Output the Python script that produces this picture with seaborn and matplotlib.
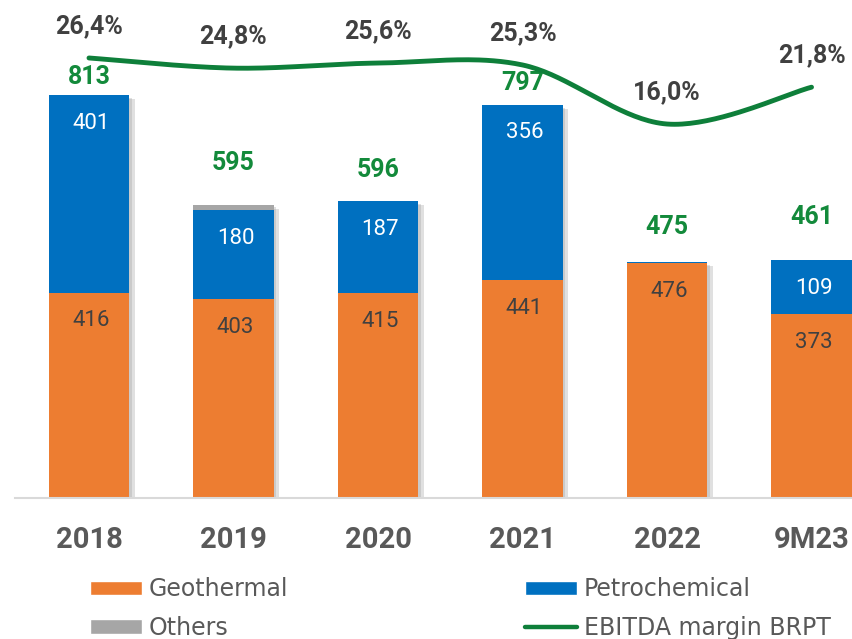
import numpy as np
import pandas as pd
import matplotlib
matplotlib.use("Agg")
import matplotlib.pyplot as plt
import matplotlib.patheffects as pe
from matplotlib.patches import Patch
from matplotlib.lines import Line2D
import seaborn as sns

# ---------------- data ----------------
categories = ["2018", "2019", "2020", "2021", "2022", "9M23"]
geothermal = [416, 403, 415, 441, 476, 373]
petrochemical = [401, 180, 187, 356, 3, 109]
others = [0, 12, 0, 0, 0, 0]
totals = [813, 595, 596, 797, 475, 461]
ebitda_margin = [26.4, 24.8, 25.6, 25.3, 16.0, 21.8]
geo_labels = ["416", "403", "415", "441", "476", "373"]
petro_labels = ["401", "180", "187", "356", "", "109"]
total_labels = ["813", "595", "596", "797", "475", "461"]
margin_labels = ["26,4%", "24,8%", "25,6%", "25,3%", "16,0%", "21,8%"]
legend_labels = ["Geothermal", "Others", "Petrochemical", "EBITDA margin BRPT"]

# ---------------- style ----------------
ORANGE = "#ED7D31"
BLUE = "#0070C0"
GRAY = "#A6A6A6"
GREEN = "#0E7F3A"
LBL_GREEN = "#138A3B"
DARK = "#404040"
TICK = "#595959"

total_label_offsets_px = [18, 42, 31, 22, 35, 43]

sns.set_theme(style="white")
plt.rcParams["font.family"] = ["Roboto", "DejaVu Sans"]

W, H = 853, 639
fig = plt.figure(figsize=(W / 100, H / 100), dpi=100)
ax = fig.add_axes([15 / W, 1 - 498 / H, (W - 15) / W, 498 / H])

df = pd.DataFrame({"cat": categories, "geo": geothermal,
                   "petro": petrochemical, "others": others})
df["c2"] = df["geo"] + df["petro"]
df["c3"] = df["c2"] + df["others"]

bw = 0.554
sns.barplot(data=df, x="cat", y="c3", order=categories, color=GRAY,
            width=bw, saturation=1, linewidth=0, ax=ax)
shadow = [pe.SimplePatchShadow(offset=(4, -3), shadow_rgbFace="#9a9a9a", alpha=0.3),
          pe.SimplePatchShadow(offset=(2, -2), shadow_rgbFace="#9a9a9a", alpha=0.3),
          pe.Normal()]
for p in ax.patches:
    p.set_path_effects(shadow)
sns.barplot(data=df, x="cat", y="c2", order=categories, color=BLUE,
            width=bw, saturation=1, linewidth=0, ax=ax)
sns.barplot(data=df, x="cat", y="geo", order=categories, color=ORANGE,
            width=bw, saturation=1, linewidth=0, ax=ax)

ax.set_xlim(-0.512, 5.287)
ax.set_ylim(0, 1009.7)
ax.set_xlabel("")
ax.set_ylabel("")
ax.set_yticks([])
ax.set_xticks(range(len(categories)))
ax.set_xticklabels(categories)
ax.tick_params(axis="x", length=0, pad=20, labelsize=21, labelcolor=TICK)
for lbl in ax.get_xticklabels():
    lbl.set_fontweight("bold")
for s in ["top", "left", "right"]:
    ax.spines[s].set_visible(False)
ax.spines["bottom"].set_color("#D9D9D9")
ax.spines["bottom"].set_linewidth(1.5)

PT = 72 / 100  # px -> pt

for i in range(len(categories)):
    c2 = df["c2"][i]
    c3 = df["c3"][i]
    if petro_labels[i]:
        ax.annotate(petro_labels[i], (i, c2), xytext=(2 * PT, -28 * PT),
                    textcoords="offset points", ha="center", va="center",
                    fontsize=16, color="white")
    ax.annotate(geo_labels[i], (i, geothermal[i]), xytext=(2 * PT, -28 * PT),
                textcoords="offset points", ha="center", va="center",
                fontsize=16, color=DARK)
    ax.annotate(total_labels[i], (i, c3),
                xytext=(0, total_label_offsets_px[i] * PT),
                textcoords="offset points", ha="center", va="center",
                fontsize=18, fontweight="bold", color=LBL_GREEN)

# ---------------- line (secondary axis) ----------------
ax2 = ax.twinx()
ax2.set_ylim(-42.89, 35.53)
ax2.set_yticks([])
for s in ax2.spines.values():
    s.set_visible(False)


def smooth(xs, ys, n=40):
    P = np.column_stack([xs, ys]).astype(float)
    P = np.vstack([P[0], P, P[-1]])
    out = []
    t = np.linspace(0, 1, n, endpoint=False)[:, None]
    for k in range(1, len(P) - 2):
        p0, p1, p2, p3 = P[k - 1], P[k], P[k + 1], P[k + 2]
        c1 = p1 + (p2 - p0) / 6
        c2 = p2 - (p3 - p1) / 6
        out.append((1 - t) ** 3 * p1 + 3 * (1 - t) ** 2 * t * c1
                   + 3 * (1 - t) * t ** 2 * c2 + t ** 3 * p2)
    out.append(P[-2][None, :])
    return np.vstack(out)


curve = smooth(np.arange(len(categories)), ebitda_margin)
sns.lineplot(x=curve[:, 0], y=curve[:, 1], sort=False, estimator=None,
             color=GREEN, linewidth=3.5, ax=ax2, solid_capstyle="round")
ax2.set_ylim(-42.89, 35.53)
ax2.set_xlim(-0.512, 5.287)
ax2.set_ylabel("")

for i, m in enumerate(ebitda_margin):
    ax2.annotate(margin_labels[i], (i, m), xytext=(0, 32 * PT),
                 textcoords="offset points", ha="center", va="center",
                 fontsize=18, fontweight="bold", color=DARK)

# ---------------- legend ----------------
handles = [Patch(facecolor=ORANGE), Patch(facecolor=GRAY),
           Patch(facecolor=BLUE),
           Line2D([0], [0], color=GREEN, lw=3.2, solid_capstyle="round")]
fig.legend(handles, legend_labels, loc="upper left",
           bbox_to_anchor=(90 / W, 1 - 577 / H), ncol=2, frameon=False,
           prop={"family": "DejaVu Sans", "size": 17}, labelcolor=TICK,
           handlelength=2.2, handleheight=0.55, handletextpad=0.3,
           columnspacing=10.0, borderpad=0, borderaxespad=0,
           labelspacing=0.63)

fig.savefig("out.png", dpi=100)
